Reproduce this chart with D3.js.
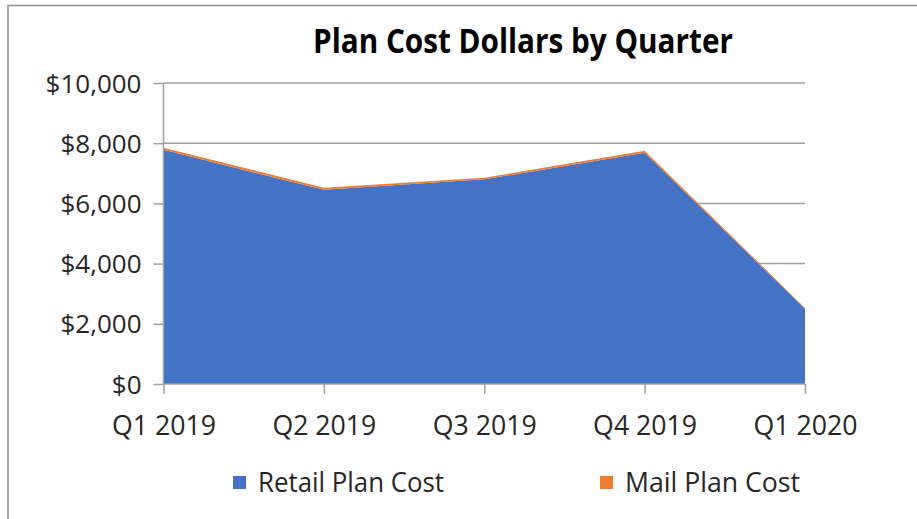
<!DOCTYPE html>
<html><head><meta charset="utf-8">
<script src="https://cdn.jsdelivr.net/npm/d3@7"></script>
<style>body{margin:0;background:#fff}svg{display:block}</style>
</head><body>
<script>
const categories = ["Q1 2019","Q2 2019","Q3 2019","Q4 2019","Q1 2020"];
const retailPlanCost = [7780, 6450, 6800, 7680, 2500];
const mailPlanCost = [70, 70, 50, 70, 25];
const yTicks = [0, 2000, 4000, 6000, 8000, 10000];
const seriesNames = ["Retail Plan Cost", "Mail Plan Cost"];
const colors = ["#4472C4", "#ED7D31"];

const W = 917, H = 519;
const FONT = "'Open Sans',sans-serif";
const svg = d3.select("body").append("svg").attr("width", W).attr("height", H);
svg.append("rect").attr("x",8).attr("y",5.5).attr("width",930).attr("height",530)
  .attr("fill","#fff").attr("stroke","#8c8c8c").attr("stroke-width",1.5);

const x = d3.scalePoint().domain(categories).range([163.5, 805]);
const y = d3.scaleLinear().domain([0, 10000]).range([384, 83]);

function fitWidth(sel, target){
  sel.attr("textLength", target).attr("lengthAdjust","spacingAndGlyphs");
}

// gridlines
svg.append("g").selectAll("line").data(yTicks.filter(d=>d>0)).join("line")
  .attr("x1",163.5).attr("x2",805).attr("y1",d=>y(d)).attr("y2",d=>y(d))
  .attr("stroke","#a0a0a0").attr("stroke-width",1.5);

const table = categories.map((c,i)=>({cat:c, retail:retailPlanCost[i], mail:mailPlanCost[i]}));
const stack = d3.stack().keys(["retail","mail"])(table);
const area = d3.area().x(d=>x(d.data.cat)).y0(d=>y(d[0])).y1(d=>y(d[1]));
svg.append("g").selectAll("path").data(stack).join("path")
  .attr("d", area).attr("fill",(d,i)=>colors[i]);

// axes
const yAxis = svg.append("g").attr("transform","translate(163.5,0)")
  .call(d3.axisLeft(y).tickValues(yTicks).tickSize(10).tickPadding(12).tickFormat(d=>"$"+d3.format(",")(d)));
yAxis.select(".domain").attr("stroke","#a0a0a0").attr("stroke-width",1.5).attr("d","M0,83V384");
yAxis.selectAll(".tick line").attr("stroke","#a0a0a0").attr("stroke-width",1.5);
yAxis.selectAll("text").attr("font-family",FONT).attr("font-size",26).attr("fill","#262626").attr("dy","0.35em");

const xAxis = svg.append("g").attr("transform","translate(0,384)")
  .call(d3.axisBottom(x).tickSize(10).tickPadding(22));
xAxis.select(".domain").attr("stroke","#a0a0a0").attr("stroke-width",1.5).attr("d","M163.5,0H805");
xAxis.selectAll(".tick line").attr("stroke","#a0a0a0").attr("stroke-width",1.5);
xAxis.selectAll("text").attr("font-family",FONT).attr("font-size",27).attr("fill","#262626");
fitWidth(xAxis.selectAll("text"), 104);

// title
const title = svg.append("text").attr("x",523).attr("y",53).attr("text-anchor","middle")
  .attr("font-family",FONT).attr("font-weight","bold").attr("font-size",34).attr("fill","#000")
  .text("Plan Cost Dollars by Quarter");
fitWidth(title, 420);

// legend
const legX = [233, 600];
const legW = [186, 175];
const lg = svg.append("g").selectAll("g").data(seriesNames).join("g")
  .attr("transform",(d,i)=>`translate(${legX[i]},0)`);
lg.append("rect").attr("x",0).attr("y",476).attr("width",13).attr("height",13).attr("fill",(d,i)=>colors[i]);
lg.append("text").attr("x",25).attr("y",492).attr("font-family",FONT).attr("font-size",27).attr("fill","#262626")
  .attr("textLength",(d,i)=>legW[i]).attr("lengthAdjust","spacingAndGlyphs").text(d=>d);
</script>
</body></html>
